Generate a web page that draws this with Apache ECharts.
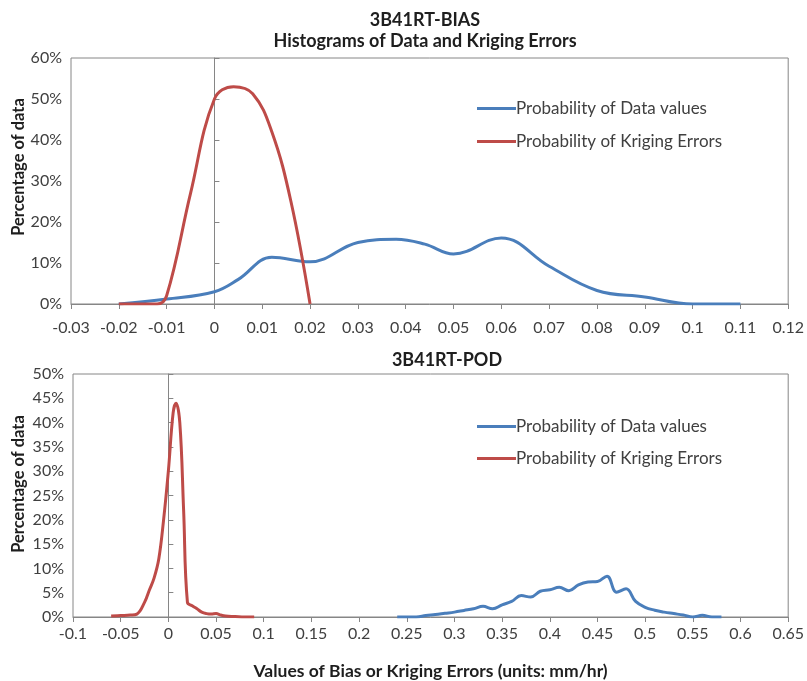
<!DOCTYPE html>
<html>
<head>
<meta charset="utf-8">
<script src="https://cdn.jsdelivr.net/npm/echarts@6/dist/echarts.min.js"></script>
<style>
  html, body { margin: 0; padding: 0; background: #fff; }
  #chart { width: 807px; height: 681px; }
</style>
</head>
<body>
<div id="chart"></div>
<script>
// values: [x value, percentage]
const biasDataValues = [
  [-0.02, 0], [-0.01, 1.2], [0, 3], [0.005, 6], [0.012, 11.4], [0.02, 10.3],
  [0.03, 15], [0.038, 15.8], [0.044, 14.6], [0.05, 12.2], [0.06, 16.1],
  [0.07, 9.2], [0.08, 3.3], [0.09, 1.7], [0.1, 0], [0.11, 0]
];
const biasKrigingErrors = [
  [-0.02, 0], [-0.012, 0], [-0.01, 2], [-0.005, 27], [0, 50], [0.004, 53],
  [0.008, 51.3], [0.012, 42], [0.016, 25], [0.02, 0]
];
const podDataValues = [
  [0.24, 0], [0.25, 0], [0.26, 0], [0.27, 0.3], [0.28, 0.5], [0.29, 0.75],
  [0.3, 1], [0.31, 1.35], [0.32, 1.7], [0.33, 2.2], [0.34, 1.7], [0.35, 2.5],
  [0.36, 3.2], [0.37, 4.4], [0.38, 4.1], [0.39, 5.3], [0.4, 5.6], [0.41, 6.1],
  [0.42, 5.4], [0.43, 6.6], [0.44, 7.2], [0.45, 7.3], [0.46, 8.4], [0.47, 5.1],
  [0.48, 5.8], [0.49, 3.2], [0.5, 2], [0.51, 1.4], [0.52, 1], [0.53, 0.7],
  [0.54, 0.4], [0.55, 0], [0.56, 0.35], [0.57, 0], [0.58, 0]
];
const podKrigingErrors = [
  [-0.06, 0.2], [-0.05, 0.3], [-0.04, 0.4], [-0.033, 0.6], [-0.025, 3],
  [-0.02, 5.5], [-0.015, 8], [-0.01, 12], [-0.005, 20], [0, 30], [0.005, 42],
  [0.008, 44], [0.012, 40], [0.016, 22], [0.02, 3], [0.025, 2.3], [0.03, 1.7],
  [0.035, 1], [0.04, 0.7], [0.045, 0.6], [0.05, 0.7], [0.055, 0.4], [0.06, 0.2],
  [0.07, 0.1], [0.08, 0], [0.09, 0]
];
const seriesNames = ['Probability of Data values', 'Probability of Kriging Errors'];
const topX = { min: -0.03, max: 0.12, interval: 0.01 };
const topY = { min: 0, max: 60, interval: 10 };
const botX = { min: -0.1, max: 0.65, interval: 0.05 };
const botY = { min: 0, max: 50, interval: 5 };

const FONT = 'Lato';
const BLUE = '#4A7EBB';
const RED = '#BE4B48';
const AXIS = '#868686';
const TITLE = '#1e1e1e';

const chart = echarts.init(document.getElementById('chart'));

const fmtX = v => String(Math.round(v * 100) / 100);

const xAxisFor = (grid, s, margin, extra) => Object.assign({
  type: 'value',
  gridIndex: grid,
  min: s.min, max: s.max, interval: s.interval,
  axisLine: { lineStyle: { color: AXIS, width: 1 } },
  axisTick: { show: true, length: 5, lineStyle: { color: AXIS } },
  axisLabel: { formatter: fmtX, color: '#404040', fontFamily: FONT, fontSize: 16, margin: margin },
  splitLine: { show: false }
}, extra || {});

const labelYAxis = (grid, s) => ({
  type: 'value',
  gridIndex: grid,
  min: s.min, max: s.max, interval: s.interval,
  axisLine: { show: false, onZero: false },
  axisTick: { show: false },
  axisLabel: { formatter: '{value}%', color: '#404040', fontFamily: FONT, fontSize: 16, margin: 9 },
  splitLine: { show: false }
});

// vertical axis line that crosses at x = 0
const zeroYAxis = (grid, s) => ({
  type: 'value',
  gridIndex: grid,
  min: s.min, max: s.max, interval: s.interval,
  axisLine: { show: true, onZero: true, lineStyle: { color: AXIS, width: 1 } },
  axisTick: { show: true, length: 5, lineStyle: { color: AXIS } },
  axisLabel: { show: false },
  splitLine: { show: false }
});

const lineSeries = (name, data, xi, yi, color) => ({
  name: name,
  type: 'line',
  xAxisIndex: xi,
  yAxisIndex: yi,
  data: data,
  smooth: 0.4,
  showSymbol: false,
  lineStyle: { width: 3, color: color },
  itemStyle: { color: color }
});

const legendAt = (top, gap) => ({
  data: seriesNames,
  orient: 'vertical',
  left: 472,
  top: top,
  icon: 'rect',
  itemWidth: 39,
  itemHeight: 3,
  itemGap: gap,
  textStyle: { color: '#404040', fontFamily: FONT, fontSize: 17, padding: [0, 0, 0, -5] }
});

const option = {
  backgroundColor: '#fff',
  animation: false,
  title: [
    {
      text: '3B41RT-BIAS\nHistograms of Data and Kriging Errors',
      left: 420,
      top: 5,
      textAlign: 'center',
      textStyle: { fontFamily: FONT, fontWeight: 'bold', fontSize: 18, color: TITLE, lineHeight: 21 }
    },
    {
      text: '3B41RT-POD',
      left: 442,
      top: 346,
      textAlign: 'center',
      textStyle: { fontFamily: FONT, fontWeight: 'bold', fontSize: 18, color: TITLE }
    }
  ],
  legend: [legendAt(95, 16), legendAt(413, 15)],
  grid: [
    { left: 71, top: 58, width: 720, height: 246, show: true, borderColor: AXIS, borderWidth: 1, backgroundColor: 'transparent' },
    { left: 73, top: 374, width: 718, height: 247, show: true, borderColor: AXIS, borderWidth: 1, backgroundColor: 'transparent' }
  ],
  xAxis: [
    xAxisFor(0, topX, 16),
    xAxisFor(1, botX, 9, {
      name: 'Values of Bias or Kriging Errors (units: mm/hr)',
      nameLocation: 'middle',
      nameGap: 45,
      nameTextStyle: { fontFamily: FONT, fontWeight: 'bold', fontSize: 17.5, color: TITLE }
    })
  ],
  yAxis: [
    labelYAxis(0, topY),
    zeroYAxis(0, topY),
    labelYAxis(1, botY),
    zeroYAxis(1, botY)
  ],
  graphic: [
    {
      type: 'text', x: 19, y: 167, rotation: Math.PI / 2,
      style: { text: 'Percentage of data', font: 'bold 16.5px Lato', fill: TITLE, textAlign: 'center', textVerticalAlign: 'middle' }
    },
    {
      type: 'text', x: 19, y: 484, rotation: Math.PI / 2,
      style: { text: 'Percentage of data', font: 'bold 16.5px Lato', fill: TITLE, textAlign: 'center', textVerticalAlign: 'middle' }
    }
  ],
  series: [
    lineSeries(seriesNames[0], biasDataValues, 0, 0, BLUE),
    lineSeries(seriesNames[1], biasKrigingErrors, 0, 0, RED),
    lineSeries(seriesNames[0], podDataValues, 1, 2, BLUE),
    lineSeries(seriesNames[1], podKrigingErrors, 1, 2, RED)
  ]
};

chart.setOption(option);

window.addEventListener('resize', () => {
  chart.resize();
});
</script>
</body>
</html>
